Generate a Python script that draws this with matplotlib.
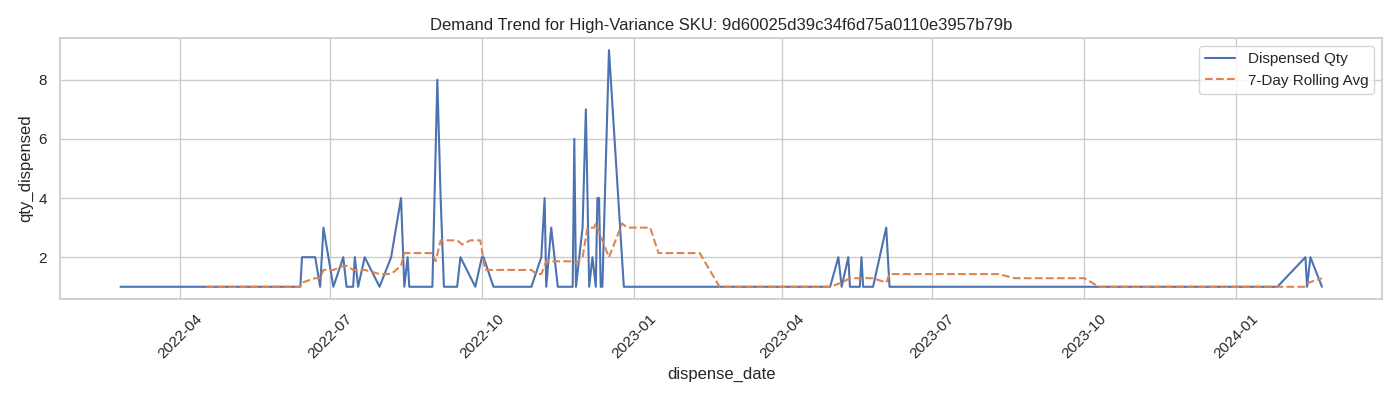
import matplotlib
matplotlib.use("Agg")
import matplotlib.pyplot as plt
import seaborn as sns
import pandas as pd

sns.set_theme(style="whitegrid")
plt.rcParams['font.family'] = ['Liberation Sans', 'DejaVu Sans']

title = "Demand Trend for High-Variance SKU: 9d60025d39c34f6d75a0110e3957b79b"

qty_dates = [
    "2022-02-24", "2022-03-04", "2022-03-13", "2022-03-22", "2022-04-01", "2022-04-09",
    "2022-04-17", "2022-04-28", "2022-05-10", "2022-05-22", "2022-06-03", "2022-06-13",
    "2022-06-14", "2022-06-22", "2022-06-25", "2022-06-27", "2022-07-03", "2022-07-09",
    "2022-07-11", "2022-07-15", "2022-07-16", "2022-07-18", "2022-07-22", "2022-07-31",
    "2022-08-07", "2022-08-13", "2022-08-15", "2022-08-17", "2022-08-18", "2022-09-01",
    "2022-09-04", "2022-09-06", "2022-09-08", "2022-09-16", "2022-09-18", "2022-09-27",
    "2022-10-01", "2022-10-02", "2022-10-08", "2022-10-31", "2022-11-06", "2022-11-08",
    "2022-11-09", "2022-11-12", "2022-11-16", "2022-11-25", "2022-11-26", "2022-11-27",
    "2022-12-01", "2022-12-03", "2022-12-05", "2022-12-07", "2022-12-09", "2022-12-10",
    "2022-12-11", "2022-12-12", "2022-12-13", "2022-12-17", "2022-12-26", "2023-01-15",
    "2023-02-10", "2023-03-15", "2023-04-30", "2023-05-05", "2023-05-07", "2023-05-11",
    "2023-05-12", "2023-05-18", "2023-05-19", "2023-05-20", "2023-05-26", "2023-06-03",
    "2023-06-05", "2023-08-01", "2023-10-01", "2023-12-01", "2024-01-26", "2024-02-12",
    "2024-02-13", "2024-02-15", "2024-02-22",
]
qty_values = [
    1, 1, 1, 1, 1, 1,
    1, 1, 1, 1, 1, 1,
    2, 2, 1, 3, 1, 2,
    1, 1, 2, 1, 2, 1,
    2, 4, 1, 2, 1, 1,
    8, 4, 1, 1, 2, 1,
    2, 2, 1, 1, 2, 4,
    1, 3, 1, 1, 6, 1,
    3, 7, 1, 2, 1, 4,
    4, 1, 1, 9, 1, 1,
    1, 1, 1, 2, 1, 2,
    1, 1, 2, 1, 1, 3,
    1, 1, 1, 1, 1, 2,
    1, 2, 1,
]

avg_dates = [
    "2022-04-17", "2022-06-13", "2022-06-14", "2022-06-22", "2022-06-25", "2022-06-27",
    "2022-07-03", "2022-07-09", "2022-07-11", "2022-07-15", "2022-07-22", "2022-07-31",
    "2022-08-07", "2022-08-13", "2022-08-15", "2022-09-01", "2022-09-03", "2022-09-06",
    "2022-09-16", "2022-09-19", "2022-09-24", "2022-09-30", "2022-10-03", "2022-10-31",
    "2022-11-03", "2022-11-06", "2022-11-09", "2022-11-25", "2022-11-27", "2022-12-01",
    "2022-12-04", "2022-12-08", "2022-12-09", "2022-12-12", "2022-12-17", "2022-12-25",
    "2022-12-28", "2023-01-11", "2023-01-16", "2023-02-10", "2023-02-22", "2023-04-30",
    "2023-05-07", "2023-05-12", "2023-05-26", "2023-06-03", "2023-06-05", "2023-08-10",
    "2023-08-20", "2023-10-01", "2023-10-10", "2024-02-12", "2024-02-14", "2024-02-22",
]
avg_values = [
    1.0, 1.0, 1.14, 1.29, 1.29, 1.57,
    1.57, 1.71, 1.71, 1.57, 1.57, 1.43,
    1.43, 1.71, 2.14, 2.14, 1.86, 2.57,
    2.57, 2.43, 2.57, 2.57, 1.57, 1.57,
    1.43, 1.43, 1.86, 1.86, 1.80, 2.0,
    3.0, 3.0, 3.14, 2.71, 2.0, 3.14,
    3.0, 3.0, 2.14, 2.14, 1.0, 1.0,
    1.14, 1.29, 1.29, 1.14, 1.43, 1.43,
    1.29, 1.29, 1.0, 1.0, 1.14, 1.29,
]

qty_x = pd.to_datetime(qty_dates)
avg_x = pd.to_datetime(avg_dates)

fig, ax = plt.subplots(figsize=(14, 4), dpi=100)
ax.plot(qty_x, qty_values, color="#4C72B0", linewidth=1.5, label="Dispensed Qty")
ax.plot(avg_x, avg_values, color="#DD8452", linewidth=1.5, linestyle="--", label="7-Day Rolling Avg")
ax.set_title(title)
ax.set_xlabel("dispense_date")
ax.set_ylabel("qty_dispensed")
ax.legend(loc="upper right")
plt.setp(ax.get_xticklabels(), rotation=45)
fig.tight_layout()
fig.savefig("out.png")
